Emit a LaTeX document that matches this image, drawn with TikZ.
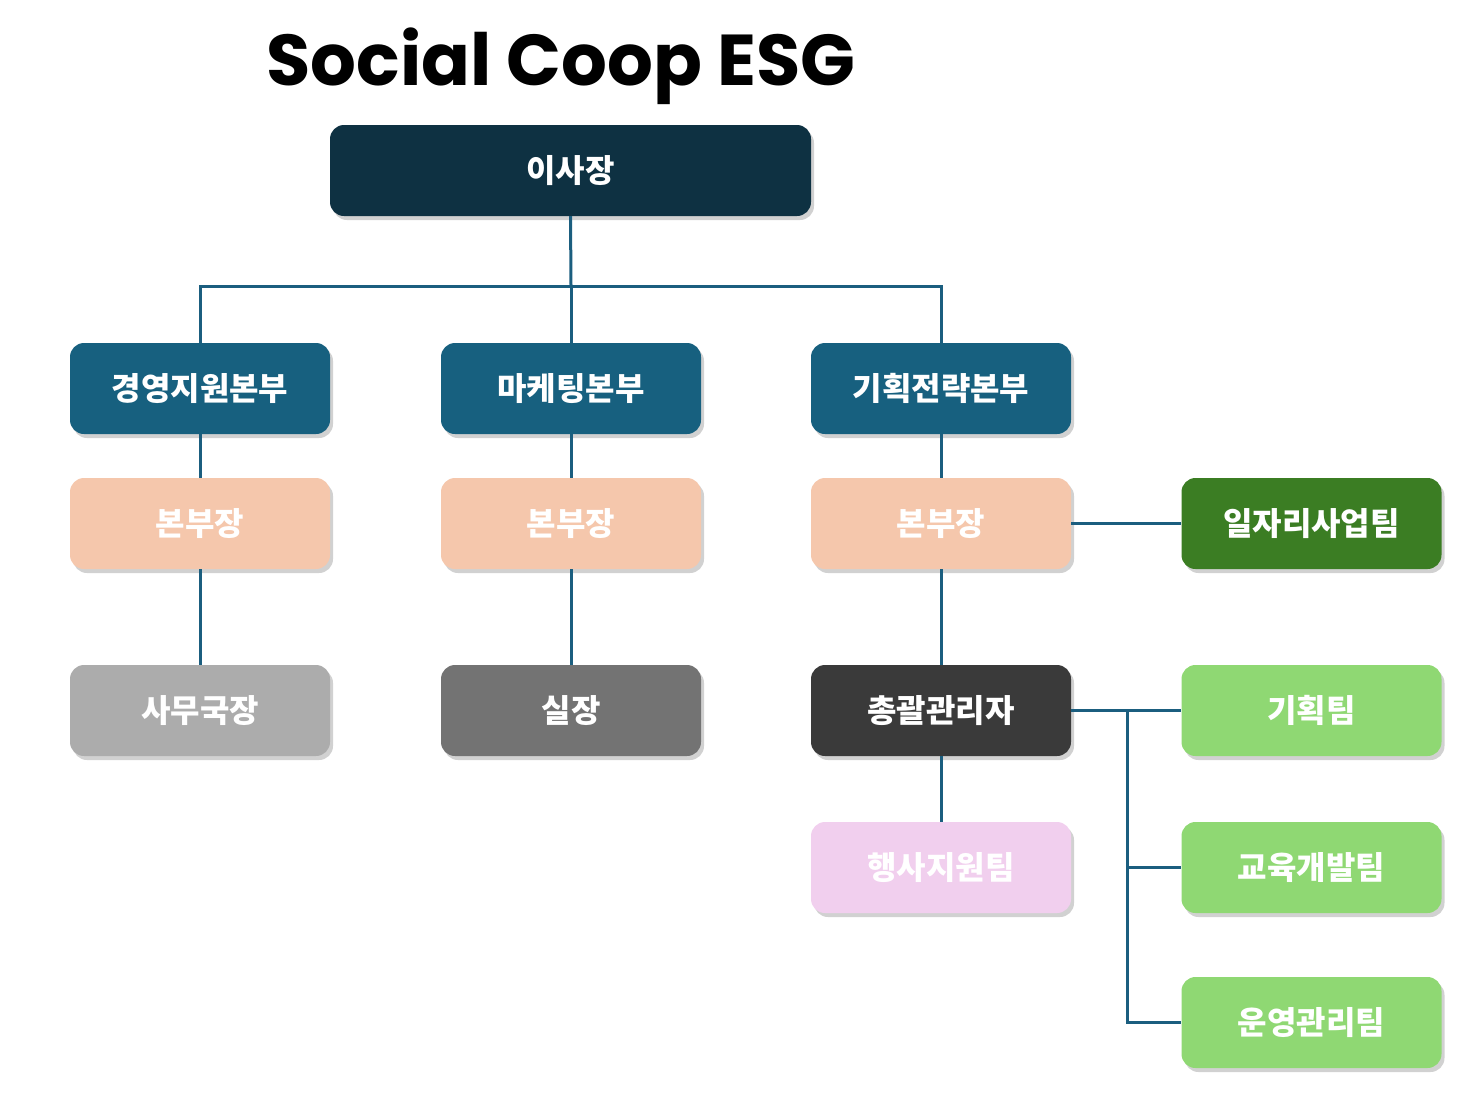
\documentclass[tikz,border=0pt]{standalone}
\usepackage{fontspec}
\newfontfamily\krfont{Noto Sans CJK KR}
\newfontfamily\titlefont{Poppins}
\usetikzlibrary{shadows}
\definecolor{ceocol}{HTML}{0E3142}
\definecolor{divcol}{HTML}{17607F}
\definecolor{headcol}{HTML}{F5C7AC}
\definecolor{jobcol}{HTML}{3B7D23}
\definecolor{teamcol}{HTML}{8FD873}
\definecolor{sgcol}{HTML}{ACACAC}
\definecolor{chiefcol}{HTML}{737373}
\definecolor{mgrcol}{HTML}{3A3A3A}
\definecolor{evcol}{HTML}{F1CFEE}
\definecolor{linkcol}{HTML}{1B5E7F}

\begin{document}
\begin{tikzpicture}
[x=1pt, y=-1pt,
 box/.style={rectangle, rounded corners=14pt, minimum width=260pt, minimum height=91pt, inner sep=0pt,
   text=white, font=\krfont\bfseries\fontsize{32}{32}\selectfont,
   drop shadow={shadow xshift=3pt, shadow yshift=-4pt, opacity=0.18, fill=black}},
 link/.style={line width=3pt, color=linkcol}]
\useasboundingbox (0,0) rectangle (1479,1095);
\node (title) [font=\titlefont\bfseries\fontsize{72}{72}\selectfont, inner sep=0pt] at (561, 66) {Social Coop ESG};
\node (ceo) [box, fill=ceocol, minimum width=481pt] at (570.5, 170.5) {이사장};
\node (div1) [box, fill=divcol] at (200, 388.5) {경영지원본부};
\node (div2) [box, fill=divcol] at (571, 388.5) {마케팅본부};
\node (div3) [box, fill=divcol] at (941, 388.5) {기획전략본부};
\node (head1) [box, fill=headcol] at (200, 523.5) {본부장};
\node (head2) [box, fill=headcol] at (571, 523.5) {본부장};
\node (head3) [box, fill=headcol] at (941, 523.5) {본부장};
\node (jobs) [box, fill=jobcol] at (1311.5, 523.5) {일자리사업팀};
\node (sg) [box, fill=sgcol] at (200, 710.5) {사무국장};
\node (chief) [box, fill=chiefcol] at (571, 710.5) {실장};
\node (mgr) [box, fill=mgrcol] at (941, 710.5) {총괄관리자};
\node (plan) [box, fill=teamcol] at (1311.5, 710.5) {기획팀};
\node (event) [box, fill=evcol] at (941, 867.5) {행사지원팀};
\node (edu) [box, fill=teamcol] at (1311.5, 867.5) {교육개발팀};
\node (ops) [box, fill=teamcol] at (1311.5, 1022.5) {운영관리팀};
\coordinate (bus) at (571, 286);
\coordinate (fork) at (1127, 710.5);
\draw [link] (ceo.south) -- (bus);
\draw [link] (div1.north) |- (bus) -| (div3.north);
\draw [link] (bus) -- (div2.north);
\draw [link] (div1) -- (head1);
\draw [link] (div2) -- (head2);
\draw [link] (div3) -- (head3);
\draw [link] (head1) -- (sg);
\draw [link] (head2) -- (chief);
\draw [link] (head3) -- (mgr);
\draw [link] (head3) -- (jobs);
\draw [link] (mgr) -- (event);
\draw [link] (mgr) -- (plan);
\draw [link] (fork) |- (edu.west);
\draw [link] (fork) |- (ops.west);
\end{tikzpicture}
\end{document}
